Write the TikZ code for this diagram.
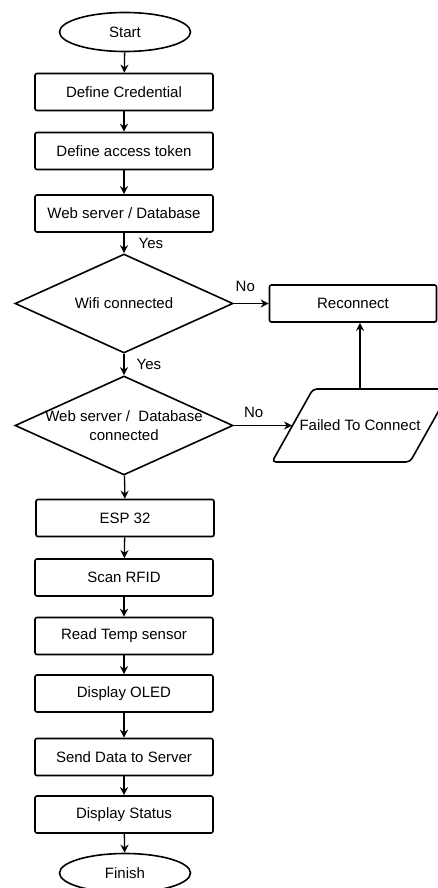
\documentclass[tikz,border=0pt]{standalone}
\usepackage{fontspec}
\setmainfont{Liberation Sans}
\usetikzlibrary{shapes.geometric,arrows.meta}

\begin{document}
\begin{tikzpicture}[x=1pt,y=-1pt,line width=1.6pt,
  font=\fontsize{15}{19}\selectfont,
  every node/.style={inner sep=0pt},
  term/.style={draw,ellipse,minimum width=131pt,minimum height=39pt},
  proc/.style={draw,rectangle,rounded corners=2pt,minimum width=178pt,minimum height=37pt},
  decision/.style={draw,diamond,minimum width=218pt,minimum height=99pt},
  flow/.style={-{Stealth[length=8pt,width=8pt]},line width=1.3pt}]

\useasboundingbox (0,0) rectangle (438,888);

\node[term] (start) at (125,32) {Start};
\node[proc] (cred) at (124,92) {Define Credential};
\node[proc] (token) at (124,151) {Define access token};
\node[proc] (web) at (124,213.5) {Web server / Database};
\node[decision,label={center:Wifi connected}] (wifi) at (124,303.5) {};
\node[proc,minimum width=167pt] (reconnect) at (353,303.5) {Reconnect};
\node[decision,label={[align=center]center:{Web server /\ \ Database\\connected}}] (dbok) at (124,425.5) {};
\node[proc] (esp) at (125,518) {ESP 32};
\node[proc] (rfid) at (124,577.5) {Scan RFID};
\node[proc] (temp) at (124,636) {Read Temp sensor};
\node[proc] (oled) at (124,693.5) {Display OLED};
\node[proc] (send) at (124,757) {Send Data to Server};
\node[proc] (status) at (124,814.5) {Display Status};
\node[term] (finish) at (125,873) {Finish};

% input/output box
\draw[rounded corners=4pt] (272,462) -- (313,389) -- (451,389) -- (410,462) -- cycle;
\node (fail) at (360,425.5) {Failed To Connect};
\coordinate (failw) at (292,425.5);
\coordinate (failn) at (360,389);

% main line
\draw[flow] (start) -- (cred);
\draw[flow] (cred) -- (token);
\draw[flow] (token) -- (web);
\draw[flow] (web) -- node[right=14pt] {Yes} (wifi);
\draw[flow] (wifi) -- node[right=12pt] {Yes} (dbok);
\draw[flow] (dbok) -- (esp);
\draw[flow] (esp) -- (rfid);
\draw[flow] (rfid) -- (temp);
\draw[flow] (temp) -- (oled);
\draw[flow] (oled) -- (send);
\draw[flow] (send) -- (status);
\draw[flow] (status) -- (finish);

% failure branch
\draw[flow] (wifi.east) -- node[above=11pt,pos=.33] {No} (reconnect);
\draw[flow] (dbok.east) -- node[above=7pt,pos=.34] {No} (failw);
\draw[flow] (failn) -- (failn |- reconnect.south);

\end{tikzpicture}
\end{document}
